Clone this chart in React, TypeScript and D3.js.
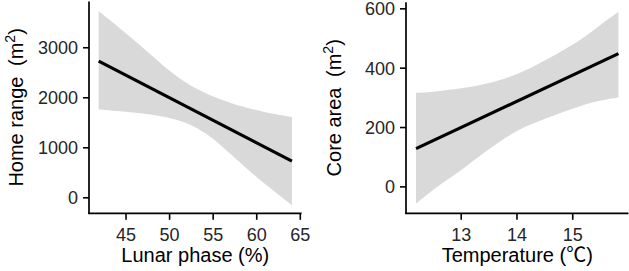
import React from "react";
import * as d3 from "d3";

// ---- Left panel: Home range vs Lunar phase ----
const lunarBandX = [41.86, 43.2, 45.49, 47.79, 50.08, 52.37, 54.67, 56.96, 58.88, 61.0, 64.04];
const homeUpper = [3734, 3545, 3215, 2870, 2530, 2250, 2050, 1900, 1800, 1710, 1615];
const homeLower = [1767, 1748, 1713, 1665, 1590, 1460, 1220, 880, 580, 270, -146];
const lunarFitX = [41.86, 64.04];
const homeFit = [2734, 734];
const lunarTicks = [45, 50, 55, 60, 65];
const homeTicks = [0, 1000, 2000, 3000];

// ---- Right panel: Core area vs Temperature ----
const tempBandX = [12.19, 12.5, 13.0, 13.46, 14.0, 14.54, 15.13, 15.49, 15.82];
const coreUpper = [317, 321, 332, 348, 380, 430, 495, 545, 590];
const coreLower = [-57, -10, 57, 122, 188, 232, 272, 290, 301];
const tempFitX = [12.19, 15.82];
const coreFit = [129, 449];
const tempTicks = [13, 14, 15];
const coreTicks = [0, 200, 400, 600];

const FONT = "'Liberation Sans', Arial, 'Noto Sans CJK SC', sans-serif";

type PanelProps = {
  xDomain: [number, number];
  xRange: [number, number];
  yDomain: [number, number];
  yRange: [number, number];
  bandX: number[];
  upper: number[];
  lower: number[];
  fitX: number[];
  fit: number[];
  xTicks: number[];
  yTicks: number[];
  xTitle: string;
  yTitle: string;
  titleX: number;
};

function Panel(p: PanelProps) {
  const x = d3.scaleLinear().domain(p.xDomain).range(p.xRange);
  const y = d3.scaleLinear().domain(p.yDomain).range(p.yRange);
  const bandData = p.bandX.map((v, i) => ({ x: v, lo: p.lower[i], hi: p.upper[i] }));
  const area = d3
    .area<{ x: number; lo: number; hi: number }>()
    .x((d) => x(d.x))
    .y0((d) => y(d.lo))
    .y1((d) => y(d.hi))
    .curve(d3.curveCatmullRom.alpha(0.5));
  const fitData = p.fitX.map((v, i) => [v, p.fit[i]] as [number, number]);
  const line = d3
    .line<[number, number]>()
    .x((d) => x(d[0]))
    .y((d) => y(d[1]));
  const x0 = p.xRange[0];
  const yb = p.yRange[0];
  const yTop = p.yRange[1];
  const xEnd = p.xRange[1];
  const midY = (p.yRange[0] + p.yRange[1]) / 2;
  const midX = (p.xRange[0] + p.xRange[1]) / 2;
  return (
    <g>
      <path d={area(bandData) || ""} fill="#d9d9d9" stroke="none" />
      <path d={line(fitData) || ""} fill="none" stroke="#000" strokeWidth={3.2} />
      <line x1={x0} x2={x0} y1={yTop} y2={yb + 0.8} stroke="#000" strokeWidth={1.7} />
      <line x1={x0 - 0.8} x2={xEnd} y1={yb} y2={yb} stroke="#000" strokeWidth={1.7} />
      {p.yTicks.map((t) => (
        <g key={"y" + t}>
          <line x1={x0 - 6} x2={x0} y1={y(t)} y2={y(t)} stroke="#000" strokeWidth={1.6} />
          <text
            x={x0 - 11}
            y={y(t)}
            dy="0.36em"
            textAnchor="end"
            fontSize={18}
            fill="#262626"
            fontFamily={FONT}
          >
            {t}
          </text>
        </g>
      ))}
      {p.xTicks.map((t) => (
        <g key={"x" + t}>
          <line x1={x(t)} x2={x(t)} y1={yb} y2={yb + 6.5} stroke="#000" strokeWidth={1.6} />
          <text x={x(t)} y={241} textAnchor="middle" fontSize={18} fill="#262626" fontFamily={FONT}>
            {t}
          </text>
        </g>
      ))}
      <text x={midX} y={262} textAnchor="middle" fontSize={20} fill="#000" fontFamily={FONT}>
        {p.xTitle}
      </text>
      <text
        transform={`translate(${p.titleX},${midY}) rotate(-90)`}
        textAnchor="middle"
        fontSize={20}
        fill="#000"
        fontFamily={FONT}
      >
        {p.yTitle}
        <tspan dx={5}>(m</tspan>
        <tspan fontSize={14} dy={-8}>
          2
        </tspan>
        <tspan dy={8}>)</tspan>
      </text>
    </g>
  );
}

export default function App() {
  return (
    <svg
      width={629}
      height={271}
      style={{ position: "absolute", left: 0, top: 0, background: "#fff" }}
    >
      <rect x={0} y={0} width={629} height={271} fill="#fff" />
      <Panel
        xDomain={[40.75, 65.15]}
        xRange={[89, 301.6]}
        yDomain={[-310, 3925]}
        yRange={[213.3, 1.5]}
        bandX={lunarBandX}
        upper={homeUpper}
        lower={homeLower}
        fitX={lunarFitX}
        fit={homeFit}
        xTicks={lunarTicks}
        yTicks={homeTicks}
        xTitle="Lunar phase (%)"
        yTitle="Home range "
        titleX={23}
      />
      <Panel
        xDomain={[12.01, 16.0]}
        xRange={[406, 628.5]}
        yDomain={[-89, 622]}
        yRange={[213.3, 2.3]}
        bandX={tempBandX}
        upper={coreUpper}
        lower={coreLower}
        fitX={tempFitX}
        fit={coreFit}
        xTicks={tempTicks}
        yTicks={coreTicks}
        xTitle="Temperature (℃)"
        yTitle="Core area "
        titleX={341}
      />
    </svg>
  );
}
